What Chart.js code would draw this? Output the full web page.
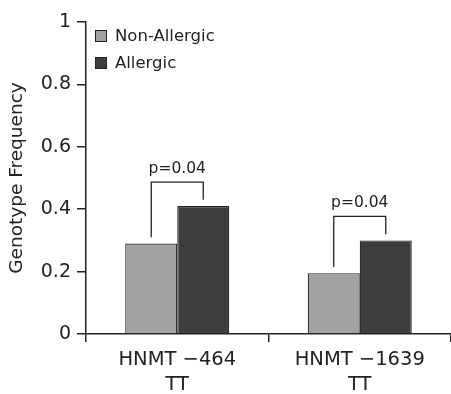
<!DOCTYPE html>
<html>
<head>
<meta charset="utf-8">
<script src="https://cdn.jsdelivr.net/npm/chart.js@4.4.1/dist/chart.umd.min.js"></script>
<style>
  html, body { margin: 0; padding: 0; background: #fff; }
  #wrap { width: 451px; height: 394px; }
</style>
</head>
<body>
<div id="wrap"><canvas id="chart"></canvas></div>
<script>
const categories = [['HNMT \u2212464', 'TT'], ['HNMT \u22121639', 'TT']];
const nonAllergic = [0.29, 0.195];
const allergic = [0.41, 0.30];
const pLabels = ['p=0.04', 'p=0.04'];
const yTicks = [0, 0.2, 0.4, 0.6, 0.8, 1];

const FONT = 'DejaVu Sans';
const INK = '#222';

// legend drawn inside the plot, top-left
const insideLegend = {
  id: 'insideLegend',
  afterDraw(chart) {
    const { ctx, chartArea } = chart;
    ctx.save();
    ctx.font = `16.5px "${FONT}"`;
    ctx.textBaseline = 'middle';
    chart.data.datasets.forEach((ds, i) => {
      const x = chartArea.left + 9;
      const y = chartArea.top + 8 + i * 27;
      ctx.fillStyle = ds.backgroundColor;
      ctx.fillRect(x, y, 12, 12);
      ctx.strokeStyle = INK;
      ctx.lineWidth = 1;
      ctx.strokeRect(x + 0.5, y + 0.5, 11, 11);
      ctx.fillStyle = INK;
      ctx.fillText(ds.label, x + 20, y + 7);
    });
    ctx.restore();
  }
};

// significance brackets
const brackets = {
  id: 'brackets',
  afterDatasetsDraw(chart) {
    const { ctx } = chart;
    const y = chart.scales.y;
    const m0 = chart.getDatasetMeta(0);
    const m1 = chart.getDatasetMeta(1);
    ctx.save();
    ctx.strokeStyle = INK;
    ctx.lineWidth = 1.3;
    ctx.fillStyle = INK;
    ctx.font = `15.5px "${FONT}"`;
    ctx.textAlign = 'center';
    ctx.textBaseline = 'alphabetic';
    pLabels.forEach((label, i) => {
      const x0 = m0.data[i].x;
      const x1 = m1.data[i].x;
      const top = y.getPixelForValue(Math.max(nonAllergic[i], allergic[i]) + 0.077);
      ctx.beginPath();
      ctx.moveTo(x0, y.getPixelForValue(nonAllergic[i] + 0.02));
      ctx.lineTo(x0, top);
      ctx.lineTo(x1, top);
      ctx.lineTo(x1, y.getPixelForValue(allergic[i] + 0.02));
      ctx.stroke();
      ctx.fillText(label, (x0 + x1) / 2, top - 9);
    });
    ctx.restore();
  }
};

new Chart(document.getElementById('chart'), {
  type: 'bar',
  data: {
    labels: categories,
    datasets: [
      {
        label: 'Non-Allergic',
        data: nonAllergic,
        backgroundColor: '#a2a2a2',
        borderColor: INK,
        borderWidth: 1.2,
        borderSkipped: 'bottom',
        categoryPercentage: 0.57,
        barPercentage: 1.0
      },
      {
        label: 'Allergic',
        data: allergic,
        backgroundColor: '#3e3e3e',
        borderColor: INK,
        borderWidth: 1.2,
        borderSkipped: 'bottom',
        categoryPercentage: 0.57,
        barPercentage: 1.0
      }
    ]
  },
  options: {
    responsive: true,
    maintainAspectRatio: false,
    animation: false,
    layout: { padding: { top: 22, left: 0, right: 0, bottom: 0 } },
    plugins: {
      legend: { display: false },
      tooltip: { enabled: false }
    },
    scales: {
      x: {
        grid: {
          display: true,
          drawOnChartArea: false,
          drawTicks: true,
          tickLength: 8,
          color: INK,
          lineWidth: 1.5
        },
        border: { display: true, color: INK, width: 1.5 },
        ticks: {
          color: INK,
          padding: 6,
          maxRotation: 0,
          font: { family: FONT, size: 19.5, lineHeight: 1.27 }
        },
        afterFit(scale) { scale.height = 60; }
      },
      y: {
        min: 0,
        max: 1,
        afterBuildTicks(scale) {
          scale.ticks = yTicks.map((v) => ({ value: v }));
        },
        grid: {
          display: true,
          drawOnChartArea: false,
          drawTicks: true,
          tickLength: 9,
          color: INK,
          lineWidth: 1.5
        },
        border: { display: true, color: INK, width: 1.5 },
        ticks: {
          color: INK,
          padding: 6,
          font: { family: FONT, size: 19 },
          callback: (v) => String(Math.round(v * 10) / 10)
        },
        title: {
          display: true,
          text: 'Genotype Frequency',
          color: INK,
          padding: { top: 6, bottom: 0 },
          font: { family: FONT, size: 18.5 }
        },
        afterFit(scale) { scale.width = 86; }
      }
    }
  },
  plugins: [insideLegend, brackets]
});
</script>
</body>
</html>
